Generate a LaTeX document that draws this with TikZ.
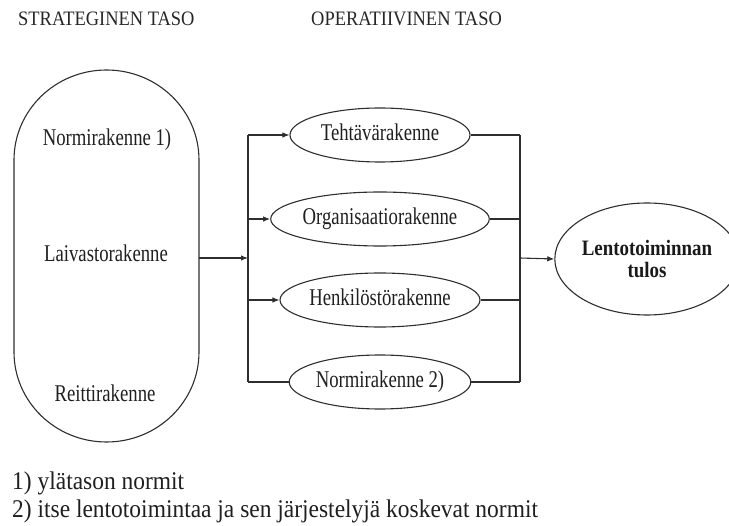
\documentclass[tikz,border=0pt]{standalone}
\usepackage{fontspec}
\setmainfont{Liberation Serif}
\newfontfamily\headfont{Liberation Serif}[FakeStretch=0.9]
\newfontfamily\notefont{Liberation Serif}[FakeStretch=0.92]
\newfontfamily\boxfont{Liberation Serif}[FakeStretch=0.78]
\newfontfamily\resfont{Liberation Serif}[FakeStretch=0.86]
\usetikzlibrary{shapes.geometric,arrows.meta}

\tikzset{
  ln/.style={draw=black!82, line width=1.1pt},
  arr/.style={ln, -{Latex[length=7pt,width=5.5pt]}},
  heading/.style={anchor=base west, inner sep=0pt, font=\headfont\fontsize{20.5}{22}\selectfont, text=black!85},
  note/.style={anchor=base west, inner sep=0pt, font=\notefont\fontsize{25.5}{27}\selectfont, text=black!88},
  lbl/.style={anchor=base, inner sep=0pt, font=\boxfont\fontsize{24}{26}\selectfont, text=black!88},
  ell/.style={ellipse, ln, minimum width=180pt, minimum height=54pt, inner sep=0pt,
    font=\boxfont\fontsize{24}{26}\selectfont, text=black!88, text height=16pt, text depth=5pt},
  result/.style={ellipse, ln, minimum width=162pt, minimum height=112pt, inner sep=0pt,
    align=center, font=\resfont\bfseries\fontsize{22}{22}\selectfont, text=black!90}
}

\begin{document}
\begin{tikzpicture}[x=1pt, y=-1pt]
\useasboundingbox (0,0) rectangle (729,526);

% level headings
\node[heading] (hs) at (18,25.5) {STRATEGINEN TASO};
\node[heading] (ho) at (311,25.5) {OPERATIIVINEN TASO};

% strategic level: tall capsule with elliptic caps
\draw[ln] (14,352) -- (14,160)
  arc[start angle=180, end angle=360, x radius=92.5, y radius=90]
  -- (199,352)
  arc[start angle=0, end angle=180, x radius=92.5, y radius=90] -- cycle;
\node[lbl] (s1) at (107,146) {Normirakenne 1)};
\node[lbl] (s2) at (106,262) {Laivastorakenne};
\node[lbl] (s3) at (105,402) {Reittirakenne};
\coordinate (sout) at (199,258);

% operative level
\node[ell] (o1) at (380,135) {Tehtävärakenne};
\node[ell] (o2) at (380,219) {Organisaatiorakenne};
\node[ell] (o3) at (380,300) {Henkilöstörakenne};
\node[ell] (o4) at (380,382) {Normirakenne 2)};

% result
\node[result] (res) at (647,259) {Lentotoiminnan\\tulos};

% distribution bus on the left, collecting bus on the right
\coordinate (lb1) at (248,0 |- o1);
\coordinate (lb4) at (248,0 |- o4);
\coordinate (rb1) at (520,0 |- o1);
\coordinate (rb4) at (520,0 |- o4);
\coordinate (lbin) at (lb1 |- sout);
\coordinate (rbout) at (rb1 |- sout);

\draw[arr] (sout) -- (lbin);
\draw[ln] (lb1) -- (lb4);
\draw[arr] (lb1) -- (o1.west);
\draw[arr] (lb1 |- o2) -- (o2.west);
\draw[arr] (lb1 |- o3) -- (o3.west);
\draw[ln] (lb4) -- (o4.west);

\draw[ln] (o1.east) -- (rb1);
\draw[ln] (o2.east) -- (rb1 |- o2);
\draw[ln] (o3.east) -- (rb1 |- o3);
\draw[ln] (o4.east) -- (rb4);
\draw[ln] (rb1) -- (rb4);
\draw[arr] (rbout) -- (res.west);

% footnotes
\node[note] (n1) at (12,490) {1) ylätason normit};
\node[note] (n2) at (12,517.5) {2) itse lentotoimintaa ja sen järjestelyjä koskevat normit};
\end{tikzpicture}
\end{document}
